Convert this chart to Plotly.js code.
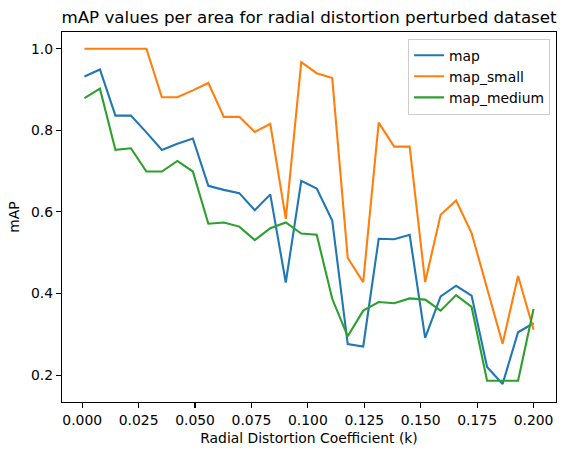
<!DOCTYPE html>
<html>
<head>
<meta charset="utf-8">
<script src="https://cdn.plot.ly/plotly-3.0.1.min.js"></script>
<style>
  html, body { margin: 0; padding: 0; background: #fff; }
  #chart { width: 567px; height: 455px; }
</style>
</head>
<body>
<div id="chart"></div>
<script>
const kValues = [0.001, 0.00786, 0.01472, 0.02159, 0.02845, 0.03531, 0.04217, 0.04903, 0.0559, 0.06276,
  0.06962, 0.07648, 0.08334, 0.09021, 0.09707, 0.10393, 0.11079, 0.11766, 0.12452, 0.13138,
  0.13824, 0.1451, 0.15197, 0.15883, 0.16569, 0.17255, 0.17941, 0.18628, 0.19314, 0.2];

const mapAll = [0.932, 0.949, 0.836, 0.836, 0.795, 0.752, 0.767, 0.780, 0.664, 0.654,
  0.646, 0.604, 0.643, 0.427, 0.676, 0.657, 0.579, 0.276, 0.270, 0.534,
  0.533, 0.544, 0.291, 0.393, 0.419, 0.395, 0.220, 0.178, 0.305, 0.327];

const mapSmall = [1.0, 1.0, 1.0, 1.0, 1.0, 0.881, 0.881, 0.898, 0.916, 0.833,
  0.833, 0.796, 0.816, 0.583, 0.967, 0.940, 0.928, 0.487, 0.428, 0.819,
  0.760, 0.760, 0.428, 0.593, 0.628, 0.548, 0.412, 0.277, 0.443, 0.311];

const mapMedium = [0.879, 0.902, 0.752, 0.756, 0.699, 0.699, 0.725, 0.699, 0.571, 0.574,
  0.564, 0.531, 0.560, 0.574, 0.547, 0.544, 0.387, 0.295, 0.358, 0.379,
  0.376, 0.388, 0.385, 0.358, 0.396, 0.367, 0.186, 0.186, 0.186, 0.362];

const seriesNames = ['map', 'map_small', 'map_medium'];
const seriesColors = ['#1f77b4', '#ff7f0e', '#2ca02c'];
const xTicks = [0, 0.025, 0.05, 0.075, 0.1, 0.125, 0.15, 0.175, 0.2];
const yTicks = [0.2, 0.4, 0.6, 0.8, 1.0];

const FONT = 'DejaVu Sans, sans-serif';
const seriesData = [mapAll, mapSmall, mapMedium];
const traces = seriesData.map((ys, i) => ({
  x: kValues, y: ys, type: 'scatter', mode: 'lines', name: seriesNames[i],
  line: { color: seriesColors[i], width: 2.1 }
}));

const axisCommon = {
  showline: true, linecolor: '#000', linewidth: 1.1, mirror: true,
  showgrid: false, zeroline: false, ticks: 'outside', ticklen: 5, tickwidth: 1.1,
  tickcolor: '#000', tickfont: { family: FONT, size: 13.9, color: '#000' }
};

const layout = {
  width: 567, height: 455,
  margin: { l: 61.7, r: 10.5, t: 32.3, b: 53.3 },
  paper_bgcolor: '#fff', plot_bgcolor: '#fff',
  font: { family: FONT, color: '#000' },
  title: {
    text: 'mAP values per area for radial distortion perturbed dataset',
    font: { family: FONT, size: 16.7, color: '#000' },
    x: 0.5, xref: 'paper', xanchor: 'center', y: 1 - 17 / 455, yref: 'container', yanchor: 'middle'
  },
  xaxis: Object.assign({}, axisCommon, {
    range: [-0.00895, 0.20995], tickvals: xTicks, tickformat: '.3f',
    title: { text: 'Radial Distortion Coefficient (k)', font: { family: FONT, size: 13.9, color: '#000' }, standoff: 6 }
  }),
  yaxis: Object.assign({}, axisCommon, {
    range: [0.134, 1.041], tickvals: yTicks, tickformat: '.1f',
    title: { text: 'mAP', font: { family: FONT, size: 13.9, color: '#000' }, standoff: 8 }
  }),
  legend: {
    x: 0.988, y: 0.982, xanchor: 'right', yanchor: 'top',
    bgcolor: 'rgba(255,255,255,0.8)', bordercolor: '#cccccc', borderwidth: 1,
    font: { family: FONT, size: 13.9, color: '#000' },
    itemwidth: 30, tracegroupgap: 0
  },
  showlegend: true
};

Plotly.newPlot('chart', traces, layout, { displayModeBar: false, staticPlot: true });
</script>
</body>
</html>
